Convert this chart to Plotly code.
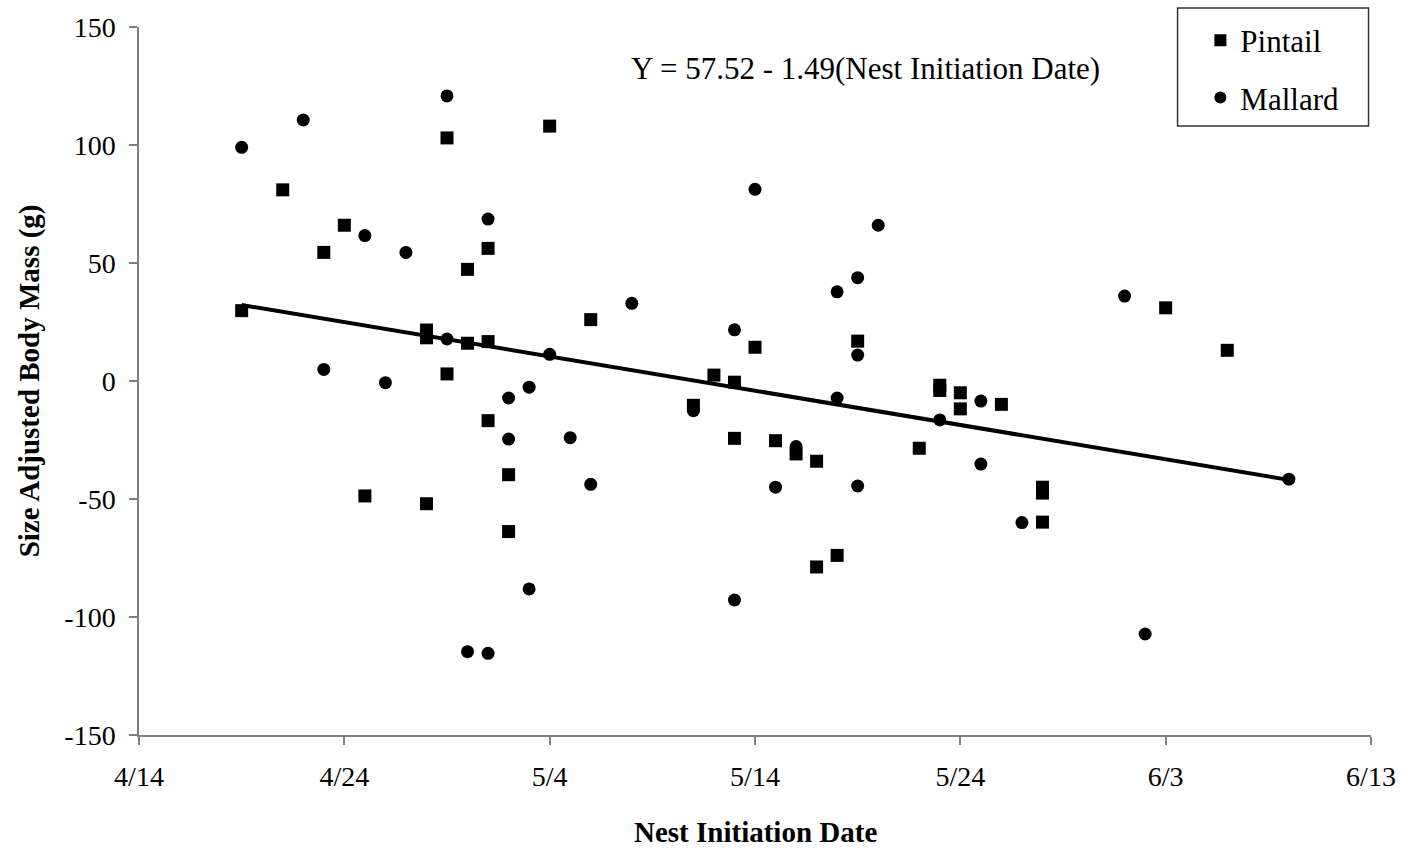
import plotly.graph_objects as go

# ---- data ----
pintail_dates = ["4/19", "4/21", "4/23", "4/24", "4/25", "4/28", "4/28", "4/28",
                 "4/29", "4/29", "4/30", "4/30", "5/1", "5/1", "5/1", "5/2", "5/2",
                 "5/4", "5/6", "5/11", "5/12", "5/13", "5/13", "5/14", "5/15",
                 "5/16", "5/17", "5/17", "5/18", "5/19", "5/22", "5/23", "5/23",
                 "5/24", "5/24", "5/26", "5/28", "5/28", "5/28", "6/3", "6/6"]
pintail_mass = [29.8, 81, 54.5, 66, -48.7, 21.6, 18.3, -52,
                103, 3, 47.3, 16, 56.2, 16.7, -16.8, -39.7, -63.8,
                108, 26, -10.3, 2.5, -0.5, -24.3, 14.3, -25.3,
                -30.9, -34, -78.8, -73.9, 16.9, -28.5, -1.8, -4,
                -5, -11.8, -9.9, -45, -47.5, -59.8, 31, 13]

mallard_dates = ["4/19", "4/22", "4/23", "4/25", "4/26", "4/27", "4/29", "4/29",
                 "4/30", "5/1", "5/1", "5/2", "5/2", "5/3", "5/3", "5/4", "5/5",
                 "5/6", "5/8", "5/11", "5/13", "5/13", "5/14", "5/15", "5/16",
                 "5/18", "5/18", "5/19", "5/19", "5/19", "5/20", "5/23", "5/25",
                 "5/25", "5/27", "6/1", "6/2", "6/9"]
mallard_mass = [99, 110.6, 4.9, 61.6, -0.7, 54.5, 120.8, 17.8,
                -114.7, 68.6, -115.4, -7.2, -24.6, -2.6, -88.1, 11.3, -24,
                -43.8, 32.9, -12.6, 21.7, -92.8, 81.2, -45, -27.8,
                37.8, -7.2, 43.8, 11, -44.5, 66, -16.5, -8.5,
                -35.2, -60, 36, -107.2, -41.6]

trend_dates = ["4/19", "6/9"]
trend_mass = [32.2, -41.9]

tick_labels = ["4/14", "4/24", "5/4", "5/14", "5/24", "6/3", "6/13"]
y_ticks = [-150, -100, -50, 0, 50, 100, 150]
y_tick_labels = ["-150", "-100", "-50", "0", "50", "100", "150"]

equation_text = "Y = 57.52 - 1.49(Nest Initiation Date)"
x_title = "Nest Initiation Date"
y_title = "Size Adjusted Body Mass (g)"

YEAR = 2001


def to_date(md):
    m, d = md.split("/")
    return f"{YEAR}-{int(m):02d}-{int(d):02d}"


FONT = "Liberation Serif, Times New Roman, serif"
AXIS_COLOR = "#808080"

fig = go.Figure()

fig.add_trace(go.Scatter(
    x=[to_date(d) for d in trend_dates], y=trend_mass,
    mode="lines", line=dict(color="black", width=4),
    showlegend=False, hoverinfo="skip"))

fig.add_trace(go.Scatter(
    x=[to_date(d) for d in pintail_dates], y=pintail_mass,
    mode="markers", name="Pintail", legendgroup="p",
    marker=dict(symbol="square", size=13, color="black")))

fig.add_trace(go.Scatter(
    x=[to_date(d) for d in mallard_dates], y=mallard_mass,
    mode="markers", name="Mallard", legendgroup="m",
    marker=dict(symbol="circle", size=13, color="black")))

fig.update_layout(
    width=1408, height=851,
    margin=dict(l=139, r=34, t=27, b=116),
    paper_bgcolor="white", plot_bgcolor="white",
    font=dict(family=FONT, color="black", size=28),
    legend=dict(
        x=0.8615, y=1.019, xanchor="left", yanchor="top",
        borderwidth=0, bgcolor="rgba(0,0,0,0)",
        font=dict(family=FONT, size=31), tracegroupgap=14,
        itemsizing="constant"),
    xaxis=dict(
        type="date",
        range=[to_date(tick_labels[0]), to_date(tick_labels[-1])],
        tickvals=[to_date(t) for t in tick_labels],
        ticktext=tick_labels,
        showgrid=False, zeroline=False,
        showline=True, linecolor=AXIS_COLOR, linewidth=1.5,
        ticks="outside", ticklen=8, tickcolor=AXIS_COLOR, tickwidth=1.5,
        tickfont=dict(family=FONT, size=28),
        ticklabelstandoff=8),
    yaxis=dict(
        range=[-150, 150], tickvals=y_ticks, ticktext=y_tick_labels,
        showgrid=False, zeroline=False,
        showline=True, linecolor=AXIS_COLOR, linewidth=1.5,
        ticks="outside", ticklen=8, tickcolor=AXIS_COLOR, tickwidth=1.5,
        tickfont=dict(family=FONT, size=28),
        ticklabelstandoff=8),
    shapes=[
        dict(type="rect", xref="paper", yref="paper",
             x0=0.843, x1=0.998, y0=0.860, y1=1.027,
             line=dict(color="#333333", width=1.5),
             fillcolor="rgba(0,0,0,0)", layer="below"),
    ],
    annotations=[
        dict(text=equation_text, xref="paper", yref="paper",
             x=0.59, y=0.942, xanchor="center", yanchor="middle",
             showarrow=False, font=dict(family=FONT, size=31)),
        dict(text=f"<b>{x_title}</b>", xref="paper", yref="paper",
             x=0.5, y=-0.137, xanchor="center", yanchor="middle",
             showarrow=False, font=dict(family=FONT, size=29)),
        dict(text=f"<b>{y_title}</b>", xref="paper", yref="paper",
             x=-0.089, y=0.5, xanchor="center", yanchor="middle",
             textangle=-90, showarrow=False,
             font=dict(family=FONT, size=29)),
    ],
)

fig.write_html(
    "out.html",
    config={"displayModeBar": False},
    post_script="document.body.style.margin='0';"
                "document.body.style.overflow='hidden';")
